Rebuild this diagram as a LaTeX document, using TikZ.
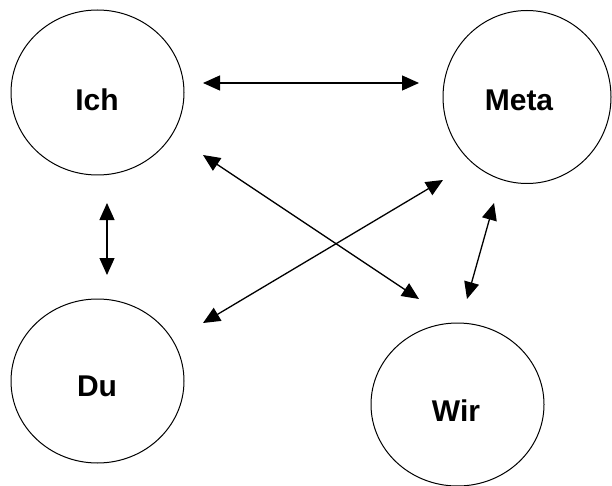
\documentclass[tikz,border=0pt]{standalone}
\usepackage{fontspec}
\setmainfont{Liberation Sans}
\usetikzlibrary{arrows.meta,shapes.geometric}
\tikzset{
  circ/.style={draw, ellipse, line width=1pt, inner sep=0pt},
  lbl/.style={font=\bfseries\fontsize{30}{34}\selectfont, inner sep=0pt},
  conn/.style={line width=1.3pt, {Triangle[length=17pt,width=15pt]}-{Triangle[length=17pt,width=15pt]}}
}
\begin{document}
\begin{tikzpicture}[x=1pt,y=-1pt]
\useasboundingbox (0,0) rectangle (612,486);
\node[circ, minimum width=173pt, minimum height=165pt] (ich) at (97.5,92.5) {};
\node[circ, minimum width=168pt, minimum height=173pt] (meta) at (527,97) {};
\node[circ, minimum width=173pt, minimum height=164pt] (du) at (97.5,381) {};
\node[circ, minimum width=173pt, minimum height=163pt] (wir) at (457.5,404.5) {};
\node[lbl] (ichT) at (97,100) {Ich};
\node[lbl] (metaT) at (519,100) {Meta};
\node[lbl] (duT) at (97,386) {Du};
\node[lbl] (wirT) at (456,411) {Wir};
% arrow end points
\coordinate (a1) at (203,83);
\coordinate (a2) at (419,83);
\coordinate (b1) at (203,155);
\coordinate (b2) at (419,299);
\coordinate (c1) at (107,203);
\coordinate (c2) at (107,275);
\coordinate (d1) at (203,323);
\coordinate (d2) at (443,180);
\coordinate (e1) at (494,203);
\coordinate (e2) at (467,299);
\draw[conn] (a1) -- (a2);
\draw[conn] (b1) -- (b2);
\draw[conn] (c1) -- (c2);
\draw[conn] (d1) -- (d2);
\draw[conn] (e1) -- (e2);
\end{tikzpicture}
\end{document}
